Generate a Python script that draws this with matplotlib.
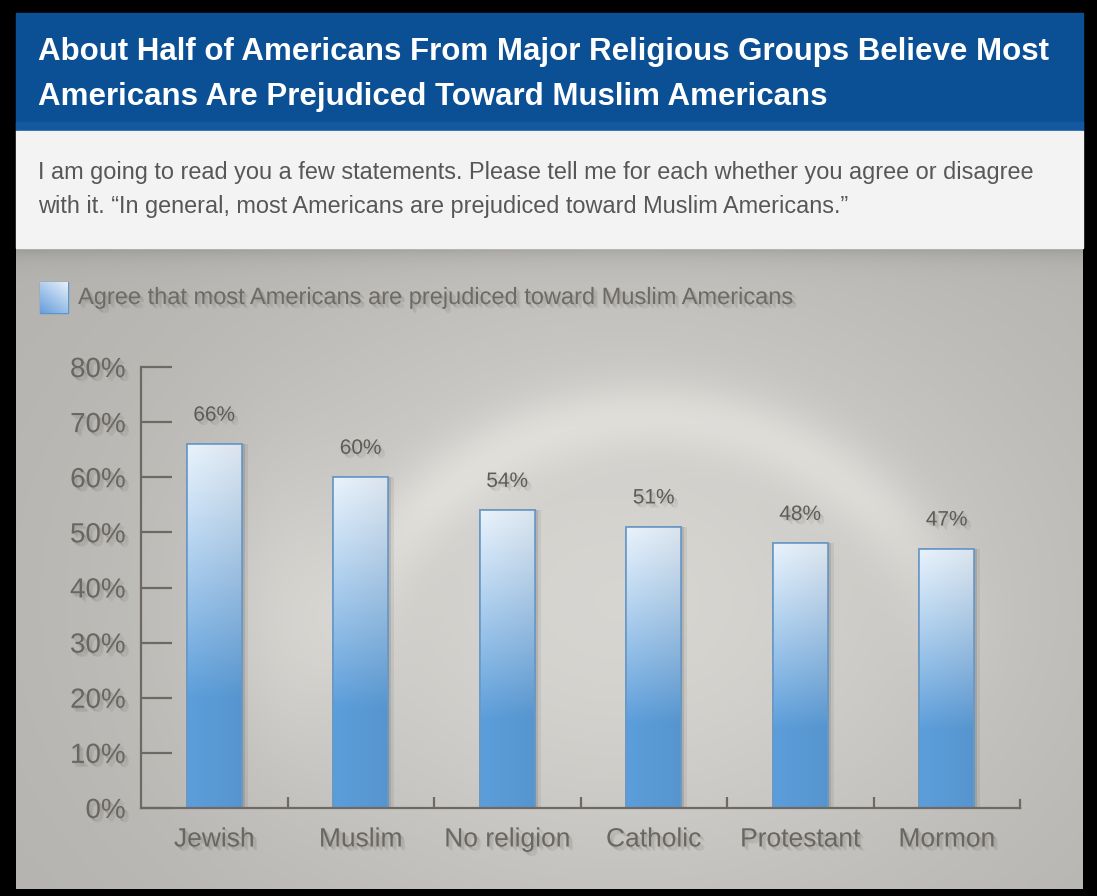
import numpy as np
import matplotlib
matplotlib.use("Agg")
import matplotlib.pyplot as plt
import matplotlib.patheffects as pe
from matplotlib.patches import Rectangle

# data
categories = ["Jewish", "Muslim", "No religion", "Catholic", "Protestant", "Mormon"]
agree = [66, 60, 54, 51, 48, 47]
y_ticks = [0, 10, 20, 30, 40, 50, 60, 70, 80]

title_lines = ["About Half of Americans From Major Religious Groups Believe Most",
               "Americans Are Prejudiced Toward Muslim Americans"]
subtitle_lines = ["I am going to read you a few statements. Please tell me for each whether you agree or disagree",
                  "with it. \u201cIn general, most Americans are prejudiced toward Muslim Americans.\u201d"]
legend_label = "Agree that most Americans are prejudiced toward Muslim Americans"

W, H = 1097, 896
plt.rcParams['font.family'] = ['Liberation Sans', 'DejaVu Sans']

fig = plt.figure(figsize=(W / 100, H / 100), dpi=100, facecolor="black")

# background panels in pixel coordinates
bg = fig.add_axes([0, 0, 1, 1])
bg.set_xlim(0, W)
bg.set_ylim(H, 0)
bg.axis("off")

L, R = 16, 1083
bg.add_patch(Rectangle((L, 13), R - L, 118, color="#0b4f94", zorder=1))
bg.add_patch(Rectangle((L, 122), R - L, 10, color="#1458a0", zorder=1))
bg.add_patch(Rectangle((L, 131), R - L, 117, color="#f3f3f3", zorder=1))

# gray area with a soft light ring
gy0, gy1 = 248, 889
yy, xx = np.mgrid[gy0:gy1, L:R].astype(float)
d = np.sqrt(((xx - 620) / 560) ** 2 + ((yy - 600) / 420) ** 2)
val = 0.70 + 0.14 * np.exp(-d ** 2 * 1.6)
rr = np.sqrt(((xx - 650) / 300) ** 2 + ((yy - 690) / 275) ** 2)
ring = np.exp(-((rr - 1.0) / 0.13) ** 2) * np.clip((700 - yy) / 200, 0, 1)
val += 0.07 * ring
val += 0.05 * np.exp(-(((xx - 290) / 70) ** 2 + ((yy - 620) / 140) ** 2))
val -= 0.10 * np.exp(-(yy - gy0) / 10)
img = np.dstack([val * 1.0, val * 0.995, val * 0.975])
bg.imshow(np.clip(img, 0, 1), extent=(L, R, gy1, gy0), aspect="auto", zorder=0.5,
          interpolation="bilinear")

# title and subtitle
for i, line in enumerate(title_lines):
    bg.text(38, 52 + i * 45, line, color="white", fontsize=22.5, fontweight="bold",
            va="center", ha="left", zorder=3)
for i, line in enumerate(subtitle_lines):
    bg.text(38, 172 + i * 34, line, color="#575757", fontsize=16.9,
            va="center", ha="left", zorder=3)

# soft drop shadow made of a few faint copies
shadow = [pe.SimplePatchShadow(offset=(o, -o), shadow_rgbFace="black", alpha=0.06)
          for o in (1, 2, 3)] + [pe.Normal()]

# legend
leg_sq = Rectangle((40, 282), 28, 31, facecolor="#7ab3e6", edgecolor="#5b95cc", lw=1, zorder=3)
bg.add_patch(leg_sq)
grad = np.linspace(1, 0, 50)[:, None] * 0.6 + np.linspace(0, 1, 30)[None, :] * 0.4
leg_img = bg.imshow(np.dstack([0.40 + 0.5 * grad, 0.62 + 0.32 * grad, 0.86 + 0.12 * grad]),
                    extent=(40, 68, 313, 282), aspect="auto", zorder=3.1)
leg_img.set_clip_path(leg_sq)
bg.text(78, 298, legend_label, color="#6e6b66", fontsize=17, va="center", ha="left",
        zorder=3, path_effects=shadow)

# chart axes
ax_left, ax_right, ax_top, ax_bot = 141, 1020, 367, 808
ax = fig.add_axes([ax_left / W, (H - ax_bot) / H, (ax_right - ax_left) / W, (ax_bot - ax_top) / H])
ax.patch.set_alpha(0)
ax.set_xlim(-0.5, len(categories) - 0.5)
ax.set_ylim(0, 80)

axis_col = "#6e6a63"
for s in ["top", "right"]:
    ax.spines[s].set_visible(False)
for s in ["left", "bottom"]:
    ax.spines[s].set_color(axis_col)
    ax.spines[s].set_linewidth(1.6)

x = np.arange(len(categories))
bar_w = 0.375

# bar shadows
for off, a in ((0.02, 0.10), (0.04, 0.06)):
    ax.bar(x + off, agree, width=bar_w, color="black", alpha=a, zorder=1.5)

bars = ax.bar(x, agree, width=bar_w, color="#5fa2dc", edgecolor="#6a98c4", linewidth=1.2, zorder=2)

# vertical gradient in each bar
t = np.linspace(0, 1, 200)[:, None]
mix = np.clip(t / 0.7, 0, 1) ** 1.1
top_c = np.array([0.91, 0.95, 0.99])
bot_c = np.array([0.36, 0.62, 0.86])
grad_img = top_c[None, None, :] * (1 - mix[:, :, None]) + bot_c[None, None, :] * mix[:, :, None]
xs = np.linspace(0, 1, 40)[None, :, None]
grad_img = grad_img * (1 - 0.06 * xs)
for b in bars:
    x0, w, h = b.get_x(), b.get_width(), b.get_height()
    im = ax.imshow(np.clip(grad_img, 0, 1), extent=(x0, x0 + w, 0, h), aspect="auto", zorder=2.1,
                   interpolation="bilinear")
    im.set_clip_path(b)
    ax.add_patch(Rectangle((x0, 0), w, h, fill=False, edgecolor="#6a98c4", lw=1.2, zorder=2.2))

for xi, v in zip(x, agree):
    ax.annotate(f"{v}%", (xi, v), xytext=(0, 14), textcoords="offset points", ha="center",
                va="bottom", fontsize=15, color="#5f5c58", path_effects=shadow)

ax.set_yticks(y_ticks)
ax.set_yticklabels([f"{v}%" for v in y_ticks])
ax.tick_params(axis="y", direction="in", length=22, width=1.6, color=axis_col, pad=11,
               labelsize=20, labelcolor="#6a6661")
ax.set_xticks(x)
ax.set_xticklabels(categories)
ax.tick_params(axis="x", which="major", length=0, pad=14, labelsize=19, labelcolor="#6a6661")
ax.set_xticks(x[1:] - 0.5, minor=True)
ax.tick_params(axis="x", which="minor", direction="in", length=8, width=1.6, color=axis_col)
ax.plot([len(categories) - 0.5] * 2, [0, 1.5], color=axis_col, lw=1.6, clip_on=False, zorder=3)
for lab in ax.get_xticklabels() + ax.get_yticklabels():
    lab.set_path_effects(shadow)

fig.savefig("out.png", dpi=100, facecolor="black")
